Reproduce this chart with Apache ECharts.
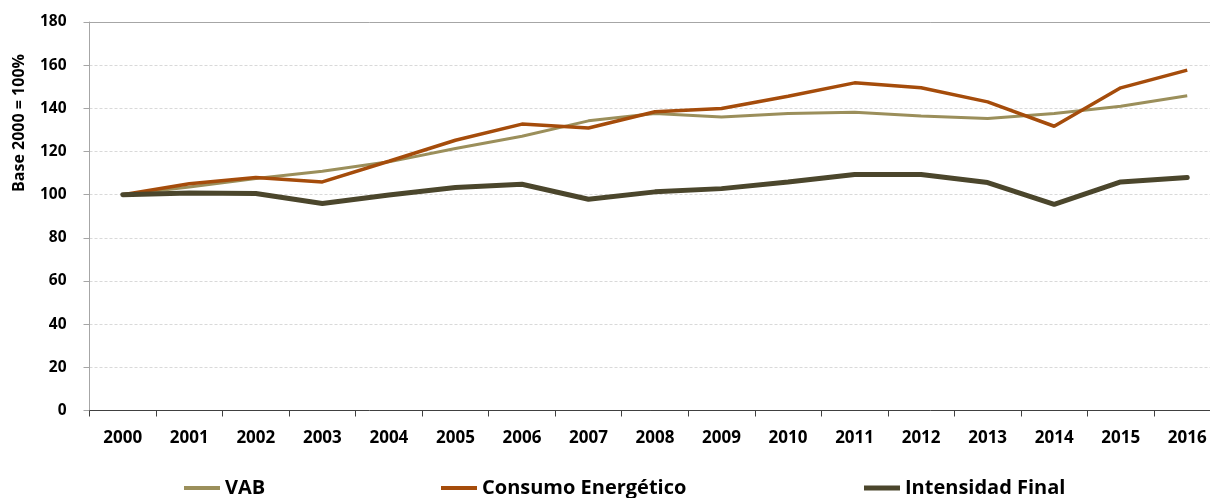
<!DOCTYPE html>
<html>
<head>
<meta charset="utf-8">
<script src="https://cdn.jsdelivr.net/npm/echarts@6/dist/echarts.min.js"></script>
<style>
  html, body { margin: 0; padding: 0; background: #ffffff; }
  #chart { width: 1210px; height: 498px; }
</style>
</head>
<body>
<div id="chart"></div>
<script>
// Índices base 2000 = 100%
const years = ['2000', '2001', '2002', '2003', '2004', '2005', '2006', '2007', '2008',
               '2009', '2010', '2011', '2012', '2013', '2014', '2015', '2016'];
const vab = [100, 103.5, 107.5, 110.9, 115.2, 121.4, 127.1, 134.2, 137.6,
             136.0, 137.6, 138.2, 136.4, 135.3, 137.6, 141.0, 145.8];
const consumo = [100, 105.1, 107.9, 105.9, 115.5, 125.2, 132.7, 130.9, 138.4,
                 139.9, 145.6, 151.8, 149.5, 143.0, 131.7, 149.5, 157.7];
const intensidad = [100, 100.8, 100.5, 95.9, 99.8, 103.3, 104.8, 97.9, 101.3,
                    102.8, 105.9, 109.3, 109.3, 105.6, 95.5, 105.9, 108.0];
const yTicks = [0, 20, 40, 60, 80, 100, 120, 140, 160, 180];

const FONT = '"Open Sans", Lato, sans-serif';
const chart = echarts.init(document.getElementById('chart'), null, { renderer: 'canvas' });

const legendBase = {
  orient: 'horizontal',
  top: 478,
  padding: 0,
  itemWidth: 36,
  itemGap: 0,
  icon: 'rect',
  selectedMode: false,
  textStyle: { fontFamily: FONT, fontWeight: 'bold', fontSize: 20, color: '#000' }
};

chart.setOption({
  animation: false,
  grid: { left: 89.5, top: 22, width: 1131, height: 388.5, containLabel: false, outerBoundsMode: 'none' },
  legend: [
    Object.assign({}, legendBase, { left: 184, itemHeight: 4, data: ['VAB'] }),
    Object.assign({}, legendBase, { left: 441, itemHeight: 4, data: ['Consumo Energético'] }),
    Object.assign({}, legendBase, { left: 864, itemHeight: 5, data: ['Intensidad Final'] })
  ],
  graphic: [{
    type: 'text',
    x: 19.5, y: 123,
    rotation: Math.PI / 2,
    style: {
      text: 'Base 2000 = 100%',
      fontFamily: FONT, fontWeight: 'bold', fontSize: 16, fill: '#000',
      align: 'center', verticalAlign: 'middle'
    }
  }],
  xAxis: [{
    type: 'category',
    data: years,
    boundaryGap: true,
    axisLine: { show: true, lineStyle: { color: '#404040', width: 1 } },
    axisTick: { show: true, length: 6, alignWithLabel: false, lineStyle: { color: '#404040' } },
    axisLabel: { fontFamily: FONT, fontWeight: 'bold', fontSize: 17, color: '#000', margin: 19.5, interval: 0 },
    splitLine: { show: false }
  }, {
    type: 'category',
    position: 'top',
    data: years,
    axisLine: { show: true, onZero: false, lineStyle: { color: '#a6a6a6', width: 1 } },
    axisTick: { show: false },
    axisLabel: { show: false },
    splitLine: { show: false }
  }],
  yAxis: {
    type: 'value',
    min: yTicks[0],
    max: yTicks[yTicks.length - 1],
    interval: 20,
    axisLine: { show: true, lineStyle: { color: '#a6a6a6', width: 1 } },
    axisTick: { show: true, length: 6, lineStyle: { color: '#a6a6a6' } },
    axisLabel: { fontFamily: FONT, fontWeight: 'bold', fontSize: 15.5, color: '#000', margin: 23 },
    splitLine: { show: true, lineStyle: { color: '#d9d9d9', type: [3, 2], width: 1 } }
  },
  series: [
    {
      name: 'VAB', type: 'line', data: vab, xAxisIndex: 0,
      symbol: 'none', smooth: false,
      lineStyle: { color: '#9b8f5b', width: 3 }, itemStyle: { color: '#9b8f5b' }
    },
    {
      name: 'Consumo Energético', type: 'line', data: consumo, xAxisIndex: 0,
      symbol: 'none', smooth: false,
      lineStyle: { color: '#a54c0b', width: 3.5 }, itemStyle: { color: '#a54c0b' }
    },
    {
      name: 'Intensidad Final', type: 'line', data: intensidad, xAxisIndex: 0,
      symbol: 'none', smooth: false,
      lineStyle: { color: '#4b462c', width: 5, cap: 'round' }, itemStyle: { color: '#4b462c' }
    }
  ]
});
</script>
</body>
</html>
